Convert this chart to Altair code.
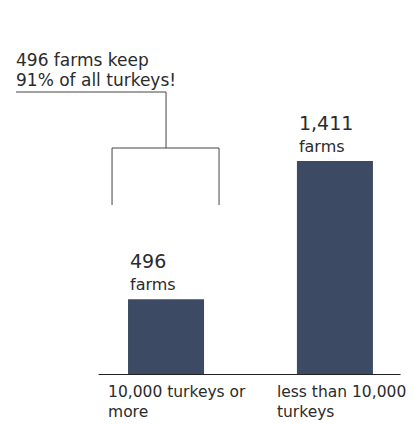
import altair as alt
import pandas as pd

# ---- data ----
categories = ["10,000 turkeys or more", "less than 10,000 turkeys"]
farms = [496, 1411]
axis_label_lines = [["10,000 turkeys or", "more"], ["less than 10,000", "turkeys"]]
annotation_lines = ["496 farms keep", "91% of all turkeys!"]
unit_label = "farms"

df = pd.DataFrame({"category": categories, "farms": farms})
FONT = "DejaVu Sans"
TEXT = "#2b2b2b"
LINE = "#444444"

label_expr = "datum.value == '%s' ? %s : %s" % (
    categories[0],
    str(axis_label_lines[0]),
    str(axis_label_lines[1]),
)

xscale = alt.Scale(paddingInner=0.55, paddingOuter=0.169, align=0.526)
x_enc = alt.X(
    "category:N",
    sort=categories,
    scale=xscale,
    axis=alt.Axis(
        title=None,
        ticks=False,
        domainColor="#222222",
        domainWidth=1,
        labelExpr=label_expr,
        labelAlign="left",
        labelOffset=-58,
        labelBaseline="top",
        labelPadding=10,
        labelFontSize=15.5,
        labelFont=FONT,
        labelColor=TEXT,
        labelLineHeight=20,
        labelAngle=0,
        labelLimit=300,
        labelOverlap=False,
    ),
)
x_left = alt.X("category:N", sort=categories, scale=xscale, bandPosition=0)
y_enc = alt.Y("farms:Q", scale=alt.Scale(domain=[0, 2425]), axis=None)

base = alt.Chart(df)

bars = base.mark_bar(color="#3d4a63").encode(x=x_enc, y=y_enc)

value_text = base.mark_text(
    align="left", baseline="alphabetic", dx=2, dy=-31, fontSize=19, font=FONT, color=TEXT
).encode(x=x_left, y=y_enc, text=alt.Text("farms:Q", format=","))

unit_text = base.mark_text(
    align="left", baseline="alphabetic", dx=2, dy=-9, fontSize=16, font=FONT, color=TEXT
).encode(x=x_left, y=y_enc, text=alt.value(unit_label))

first = base.transform_filter(alt.datum.category == categories[0])
x_c = alt.X("category:N", sort=categories, scale=xscale)

underline = first.mark_rule(color=LINE, strokeWidth=1).encode(
    x=x_c, x2=alt.value(-82), y=alt.value(84)
)
drop = first.mark_rule(color=LINE, strokeWidth=1).encode(
    x=x_c, y=alt.value(84), y2=alt.value(140)
)
bracket_top = first.mark_rule(color=LINE, strokeWidth=1, xOffset=-54, x2Offset=53).encode(
    x=x_c, x2=alt.X2("category:N"), y=alt.value(140)
)
leg_left = first.mark_rule(color=LINE, strokeWidth=1, xOffset=-54).encode(
    x=x_c, y=alt.value(140), y2=alt.value(197)
)
leg_right = first.mark_rule(color=LINE, strokeWidth=1, xOffset=53).encode(
    x=x_c, y=alt.value(140), y2=alt.value(197)
)

annotation = alt.Chart(pd.DataFrame({"lines": [annotation_lines]})).mark_text(
    align="left", baseline="alphabetic", fontSize=17, font=FONT, color=TEXT, lineHeight=19.5
).encode(x=alt.value(-82), y=alt.value(58), text="lines")

chart = alt.layer(
    bars, value_text, unit_text, underline, drop, bracket_top, leg_left, leg_right, annotation
).properties(
    width=302,
    height=366,
    autosize=alt.AutoSizeParams(type="none"),
    padding={"left": 90, "top": 0, "right": 11, "bottom": 51},
).configure_view(stroke=None)

chart.save("out.html", embed_options={"renderer": "svg", "actions": False})
